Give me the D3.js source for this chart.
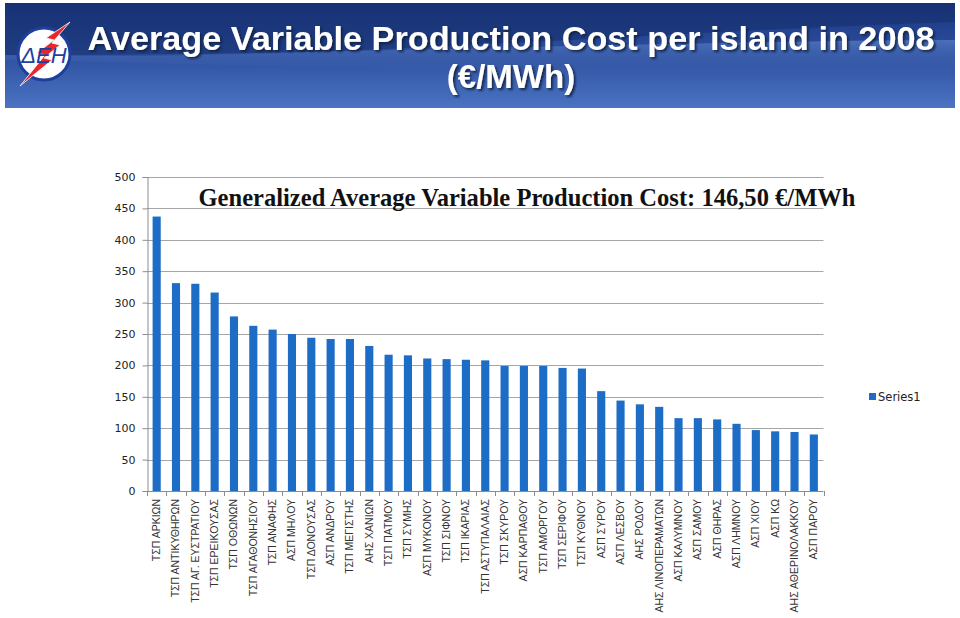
<!DOCTYPE html>
<html><head><meta charset="utf-8">
<script src="https://cdn.jsdelivr.net/npm/d3@7"></script>
<style>html,body{margin:0;padding:0;background:#fff;}svg{display:block;}</style>
</head><body>
<svg id="chart" width="960" height="618"></svg>
<script>
const categories = ["ΤΣΠ ΑΡΚΙΩΝ","ΤΣΠ ΑΝΤΙΚΥΘΗΡΩΝ","ΤΣΠ ΑΓ. ΕΥΣΤΡΑΤΙΟΥ","ΤΣΠ ΕΡΕΙΚΟΥΣΑΣ","ΤΣΠ ΟΘΩΝΩΝ","ΤΣΠ ΑΓΑΘΟΝΗΣΙΟΥ","ΤΣΠ ΑΝΑΦΗΣ","ΑΣΠ ΜΗΛΟΥ","ΤΣΠ ΔΟΝΟΥΣΑΣ","ΑΣΠ ΑΝΔΡΟΥ","ΤΣΠ ΜΕΓΙΣΤΗΣ","ΑΗΣ ΧΑΝΙΩΝ","ΤΣΠ ΠΑΤΜΟΥ","ΤΣΠ ΣΥΜΗΣ","ΑΣΠ ΜΥΚΟΝΟΥ","ΤΣΠ ΣΙΦΝΟΥ","ΤΣΠ ΙΚΑΡΙΑΣ","ΤΣΠ ΑΣΤΥΠΑΛΑΙΑΣ","ΤΣΠ ΣΚΥΡΟΥ","ΑΣΠ ΚΑΡΠΑΘΟΥ","ΤΣΠ ΑΜΟΡΓΟΥ","ΤΣΠ ΣΕΡΙΦΟΥ","ΤΣΠ ΚΥΘΝΟΥ","ΑΣΠ ΣΥΡΟΥ","ΑΣΠ ΛΕΣΒΟΥ","ΑΗΣ ΡΟΔΟΥ","ΑΗΣ ΛΙΝΟΠΕΡΑΜΑΤΩΝ","ΑΣΠ ΚΑΛΥΜΝΟΥ","ΑΣΠ ΣΑΜΟΥ","ΑΣΠ ΘΗΡΑΣ","ΑΣΠ ΛΗΜΝΟΥ","ΑΣΠ ΧΙΟΥ","ΑΣΠ ΚΩ","ΑΗΣ ΑΘΕΡΙΝΟΛΑΚΚΟΥ","ΑΣΠ ΠΑΡΟΥ"];
const series1 = [437,331,330,316,278,263,257,250,244,242,242,231,217,216,211,210,209,208,199,199,199,196,195,159,144,138,134,116,116,114,107,97,95,94,90];
const yTicks = [0,50,100,150,200,250,300,350,400,450,500];
const seriesName = "Series1";
const titleLines = ["Average Variable Production Cost per island in 2008","(€/MWh)"];
const annotation = "Generalized Average Variable Production Cost: 146,50 €/MWh";

const svg = d3.select("#chart");
const defs = svg.append("defs");

// header gradient
const hg = defs.append("linearGradient").attr("id","hdr").attr("x1",0).attr("y1",0).attr("x2",0).attr("y2",1);
hg.append("stop").attr("offset","0%").attr("stop-color","#1b3780");
hg.append("stop").attr("offset","45%").attr("stop-color","#2b4d9c");
hg.append("stop").attr("offset","100%").attr("stop-color","#4a73c2");
const sg = defs.append("linearGradient").attr("id","swoosh").attr("x1",0).attr("y1",0).attr("x2",0).attr("y2",1);
sg.append("stop").attr("offset","0%").attr("stop-color","#6a8fd6").attr("stop-opacity",0.55);
sg.append("stop").attr("offset","100%").attr("stop-color","#2a4a98").attr("stop-opacity",0);
const f = defs.append("filter").attr("id","shadow").attr("x","-5%").attr("y","-20%").attr("width","110%").attr("height","150%");
f.append("feDropShadow").attr("dx",2).attr("dy",2).attr("stdDeviation",1.2).attr("flood-color","#0a1a40").attr("flood-opacity",0.85);

svg.append("rect").attr("x",5).attr("y",3).attr("width",950).attr("height",105).attr("fill","url(#hdr)");
svg.append("path").attr("d","M5,55 C300,62 600,34 955,22 L955,3 L5,3 Z").attr("fill","#132b68").attr("opacity",0.5);
svg.append("path").attr("d","M5,60 C300,66 600,74 955,82 L955,40 C600,42 300,56 5,55 Z").attr("fill","url(#swoosh)");

// logo
const logo = svg.append("g");
logo.append("circle").attr("cx",44).attr("cy",54).attr("r",26).attr("fill","#fff").attr("stroke","#1f3f9f").attr("stroke-width",3);
logo.append("path").attr("d","M70,22 L46,38 L54,40 L37,53 L45,55 L20,86 L52,60 L44,58 L60,45 L52,43 Z").attr("fill","#e8262b").attr("stroke","#fff").attr("stroke-width",0.8);
logo.append("text").attr("x",44).attr("y",63).attr("text-anchor","middle").attr("font-family","Liberation Sans, Arial, sans-serif")
  .attr("font-style","italic").attr("font-size",22).attr("fill","#1f3f9f").text("ΔΕΗ");

// title
const tt = svg.append("text").attr("font-family","Liberation Sans, Arial, sans-serif").attr("font-weight","bold")
  .attr("font-size",33).attr("fill","#fff").attr("text-anchor","middle").attr("filter","url(#shadow)");
tt.append("tspan").attr("x",511).attr("y",50).attr("textLength",847).attr("lengthAdjust","spacingAndGlyphs").text(titleLines[0]);
tt.append("tspan").attr("x",511).attr("y",88).text(titleLines[1]);

// chart
const m = {left:147, right:823.5, top:177, bottom:491};
const x = d3.scaleBand().domain(categories).range([m.left,m.right]).paddingInner(0.58).paddingOuter(0.29);
const y = d3.scaleLinear().domain([0,500]).range([m.bottom,m.top]);

// grid
svg.append("g").selectAll("line").data(yTicks.filter(d=>d>0)).join("line")
  .attr("x1",m.left).attr("x2",m.right).attr("y1",d=>Math.round(y(d))+0.5).attr("y2",d=>Math.round(y(d))+0.5)
  .attr("stroke","#a6a6a6").attr("stroke-width",1);

// y axis
const yAxis = svg.append("g").attr("transform",`translate(${m.left+0.5},0)`)
  .call(d3.axisLeft(y).tickValues(yTicks).tickSize(5).tickPadding(7).tickFormat(d3.format("d")));
yAxis.select(".domain").attr("stroke","#8c8c8c");
yAxis.selectAll(".tick line").attr("stroke","#8c8c8c");
yAxis.selectAll("text").attr("font-family","DejaVu Sans, sans-serif").attr("font-size",11).attr("fill","#222");

// bars
svg.append("g").selectAll("rect").data(series1).join("rect")
  .attr("x",(d,i)=>x(categories[i])).attr("width",x.bandwidth())
  .attr("y",d=>y(d)).attr("height",d=>y(0)-y(d)).attr("fill","#1d6cc6");

// x axis
const step = x.step();
const xa = svg.append("g");
xa.append("line").attr("x1",m.left).attr("x2",m.right).attr("y1",m.bottom+0.5).attr("y2",m.bottom+0.5).attr("stroke","#8c8c8c");
xa.selectAll("line.tk").data(d3.range(categories.length+1)).join("line").attr("class","tk")
  .attr("x1",i=>Math.round(m.left+i*step)+0.5).attr("x2",i=>Math.round(m.left+i*step)+0.5)
  .attr("y1",m.bottom).attr("y2",m.bottom+5).attr("stroke","#8c8c8c");
xa.selectAll("text").data(categories).join("text")
  .attr("transform",d=>`translate(${x(d)+x.bandwidth()/2+3.5},${m.bottom+8}) rotate(-90)`)
  .attr("text-anchor","end").attr("font-family","Liberation Sans Narrow, Liberation Sans, Arial, sans-serif")
  .attr("font-size",10.5).attr("fill","#333").text(d=>d);

// annotation
svg.append("text").attr("x",527).attr("y",206).attr("text-anchor","middle")
  .attr("font-family","Liberation Serif, Times New Roman, serif").attr("font-weight","bold").attr("font-size",25)
  .attr("textLength",657).attr("lengthAdjust","spacingAndGlyphs").attr("fill","#111").text(annotation);

// legend
svg.append("rect").attr("x",869).attr("y",393).attr("width",7).attr("height",7).attr("fill","#1d6cc6");
svg.append("text").attr("x",878).attr("y",401).attr("font-family","DejaVu Sans, sans-serif").attr("font-size",11.5)
  .attr("fill","#222").text(seriesName);
</script>
</body></html>
